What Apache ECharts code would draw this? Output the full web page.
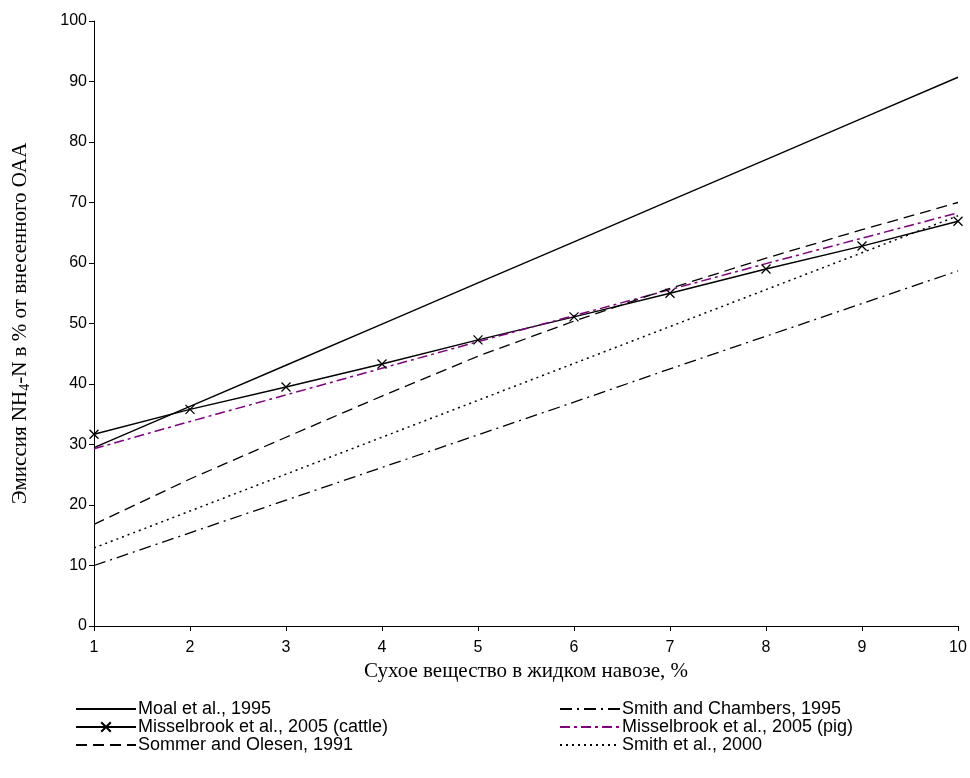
<!DOCTYPE html>
<html>
<head>
<meta charset="utf-8">
<script src="https://cdn.jsdelivr.net/npm/echarts@6/dist/echarts.min.js"></script>
<style>html,body{margin:0;padding:0;background:#fff}#c{width:970px;height:778px}</style>
</head>
<body>
<div id="c"></div>
<script>
var xValues = [1, 2, 3, 4, 5, 6, 7, 8, 9, 10];
var moal = [29.5, 36.3, 43.1, 49.9, 56.7, 63.5, 70.3, 77.1, 83.9, 90.7];
var smithChambers = [10.0, 15.4, 20.8, 26.2, 31.6, 37.0, 42.5, 47.9, 53.3, 58.7];
var misselCattle = [31.7, 35.8, 39.5, 43.3, 47.3, 51.1, 55.0, 59.0, 62.8, 66.9];
var misselPig = [29.3, 33.8, 38.2, 42.6, 47.0, 51.3, 55.6, 59.9, 64.1, 68.3];
var sommer = [16.8, 24.3, 31.2, 38.0, 44.6, 50.4, 55.8, 60.8, 65.5, 70.0];
var smith2000 = [12.9, 19.0, 25.1, 31.2, 37.3, 43.4, 49.5, 55.6, 61.7, 67.8];
var names = ['Moal et al., 1995', 'Smith and Chambers, 1995', 'Misselbrook et al., 2005 (cattle)',
             'Misselbrook et al., 2005 (pig)', 'Sommer and Olesen, 1991', 'Smith et al., 2000'];

function pairs(arr) { return xValues.map(function (x, i) { return [x, arr[i]]; }); }

var sans = 'Liberation Sans, Arial, sans-serif';
var serif = 'Liberation Serif, Times New Roman, serif';
var crossPath = 'path://M0,0L10,10M10,0L0,10';

function lineSeries(name, data, color, type, width) {
  return {
    name: name, type: 'line', data: pairs(data), symbol: 'none', smooth: false,
    lineStyle: { color: color, width: width || 1.3, type: type },
    itemStyle: { color: color },
    animation: false
  };
}

var series = [
  lineSeries(names[0], moal, '#000', 'solid', 1.4),
  lineSeries(names[1], smithChambers, '#000', [12, 5, 2, 5], 1.3),
  {
    name: names[2], type: 'line', data: pairs(misselCattle),
    symbol: crossPath, symbolSize: 9,
    lineStyle: { color: '#000', width: 1.4, type: 'solid' },
    itemStyle: { color: 'none', borderColor: '#000', borderWidth: 1.3 },
    animation: false
  },
  lineSeries(names[3], misselPig, '#800080', [10, 4, 3, 4], 1.5),
  lineSeries(names[4], sommer, '#000', [11, 6], 1.3),
  lineSeries(names[5], smith2000, '#000', [2, 4], 1.5)
];

function legendItem(n) {
  if (n === names[2]) return { name: n };
  return { name: n, itemStyle: { opacity: 0 } };
}

var legendText = { fontFamily: sans, fontSize: 18, color: '#000', lineHeight: 16, padding: [0, 0, 0, -3] };

var chart = echarts.init(document.getElementById('c'), null, { renderer: 'canvas' });
chart.setOption({
  backgroundColor: '#fff',
  animation: false,
  grid: { left: 92, right: 12, top: 21, bottom: 152, containLabel: false },
  xAxis: {
    type: 'value', min: 1, max: 10, interval: 1,
    name: 'Сухое вещество в жидком навозе, %',
    nameLocation: 'middle', nameGap: 20,
    nameTextStyle: { fontFamily: serif, fontSize: 21, color: '#000' },
    axisLine: { lineStyle: { color: '#000', width: 1 } },
    axisTick: { show: true, length: 5, lineStyle: { color: '#000' } },
    axisLabel: { fontFamily: sans, fontSize: 16, color: '#000', margin: 14 },
    splitLine: { show: false }
  },
  yAxis: {
    type: 'value', min: 0, max: 100, interval: 10,
    name: '{a|Эмиссия NH}{s|4}{a|-N в % от внесенного ОАА}',
    nameLocation: 'middle', nameGap: 62,
    nameTextStyle: {
      fontFamily: serif, fontSize: 21, color: '#000',
      rich: {
        a: { fontFamily: serif, fontSize: 21, color: '#000', lineHeight: 24 },
        s: { fontFamily: serif, fontSize: 14, color: '#000', lineHeight: 24, padding: [10, 0, 0, 0] }
      }
    },
    axisLine: { show: true, lineStyle: { color: '#000', width: 1 } },
    axisTick: { show: true, length: 5, lineStyle: { color: '#000' } },
    axisLabel: { fontFamily: sans, fontSize: 16, color: '#000', margin: 7 },
    splitLine: { show: false }
  },
  legend: [
    {
      data: [names[0], names[2], names[4]].map(legendItem),
      orient: 'vertical', left: 75, top: 700, padding: 0,
      itemWidth: 60, itemHeight: 12, itemGap: 0,
      textStyle: legendText,
      selectedMode: false
    },
    {
      data: [names[1], names[3], names[5]].map(legendItem),
      orient: 'vertical', left: 559, top: 700, padding: 0,
      itemWidth: 60, itemHeight: 12, itemGap: 0,
      textStyle: legendText,
      selectedMode: false
    }
  ],
  series: series
});
</script>
</body>
</html>
